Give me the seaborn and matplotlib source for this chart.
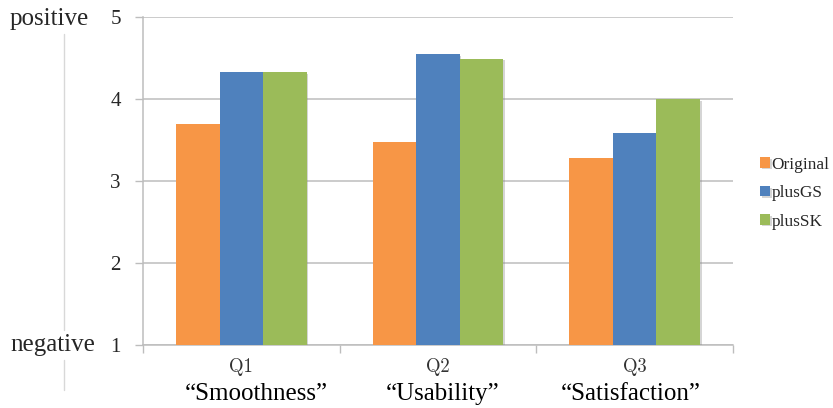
import matplotlib
matplotlib.use("Agg")
import matplotlib.pyplot as plt
import matplotlib.patheffects as pe
from matplotlib.lines import Line2D
import seaborn as sns
import pandas as pd

# Survey results (mean ratings, 1 = negative, 5 = positive)
questions = ["Q1", "Q2", "Q3"]
aspects = ["\u201cSmoothness\u201d", "\u201cUsability\u201d", "\u201cSatisfaction\u201d"]
conditions = ["Original", "plusGS", "plusSK"]
original = [3.69, 3.47, 3.28]
plus_gs = [4.33, 4.55, 3.58]
plus_sk = [4.33, 4.49, 4.00]
y_ticks = [1, 2, 3, 4, 5]
palette = ["#F79646", "#4F81BD", "#9BBB59"]

# horizontal nudge of the aspect captions (in category units)
aspect_shift = [0.075, 0.025, -0.02]

rows = []
for cond, vals in zip(conditions, [original, plus_gs, plus_sk]):
    for q, v in zip(questions, vals):
        rows.append({"question": q, "condition": cond, "score": v})
df = pd.DataFrame(rows)

sns.set_theme(style="white")
plt.rcParams["font.family"] = ["Liberation Serif", "DejaVu Serif"]

fig = plt.figure(figsize=(8.33, 4.08), dpi=100)
ax = fig.add_axes([143 / 833, 1 - 345 / 408, (733 - 143) / 833, (345 - 17) / 408])

sns.barplot(data=df, x="question", y="score", hue="condition", order=questions,
            hue_order=conditions, palette=palette, width=0.665, saturation=1,
            linewidth=0, ax=ax, zorder=3, legend=True)

for bar in ax.patches:
    bar.set_path_effects([pe.SimplePatchShadow(offset=(1.2, -1.2), shadow_rgbFace="#888888", alpha=0.35),
                          pe.Normal()])

ax.set_ylim(1, 5)
ax.set_xlim(-0.5, 2.5)
ax.set_yticks(y_ticks)
ax.set_yticklabels([str(t) for t in y_ticks], fontsize=15)
ax.yaxis.grid(True, color="#BDBDBD", linewidth=1.1, zorder=0)
ax.set_axisbelow(True)
ax.tick_params(axis="y", length=6, width=1.0, color="#BDBDBD", pad=10, direction="out", left=True)

# Category separators on the x axis
ax.set_xticks([-0.5, 0.5, 1.5, 2.5], minor=True)
ax.set_xticks(range(len(questions)))
ax.set_xticklabels([])
ax.tick_params(axis="x", which="major", length=0)
ax.tick_params(axis="x", which="minor", length=6, width=1.0, color="#BDBDBD", bottom=True, direction="out")

for side in ["top", "right"]:
    ax.spines[side].set_visible(False)
for side in ["left", "bottom"]:
    ax.spines[side].set_color("#BDBDBD")
    ax.spines[side].set_linewidth(1.1)

ax.set_xlabel("")
ax.set_ylabel("")

# Two-line category labels
trans = ax.get_xaxis_transform()
for i, (q, a, dx) in enumerate(zip(questions, aspects, aspect_shift)):
    ax.text(i, -0.068, q, transform=trans, ha="center", va="center",
            fontsize=13.5, family=["cmr10", "DejaVu Serif"], color="#333333")
    ax.text(i + dx, -0.148, a, transform=trans, ha="center", va="center", fontsize=18, color="black")

# Legend
handles, labels = ax.get_legend_handles_labels()
leg = ax.legend(handles, labels, loc="center left", bbox_to_anchor=(1.046, 0.463), frameon=False,
                fontsize=12.4, handlelength=0.6, handleheight=0.55, handletextpad=0.05,
                labelspacing=0.72, borderaxespad=0, borderpad=0)

# Scale direction annotation
fig.text(10 / 833, 1 - 19 / 408, "positive", ha="left", va="center", fontsize=18)
fig.text(10 / 833, 1 - 345 / 408, "negative", ha="left", va="center", fontsize=18)
for y0, y1 in [(34, 330), (360, 390)]:
    fig.add_artist(Line2D([64 / 833, 64 / 833], [1 - y0 / 408, 1 - y1 / 408],
                          transform=fig.transFigure, color="#D8D8D8", linewidth=1.0))

fig.savefig("out.png", dpi=100, facecolor="white")
